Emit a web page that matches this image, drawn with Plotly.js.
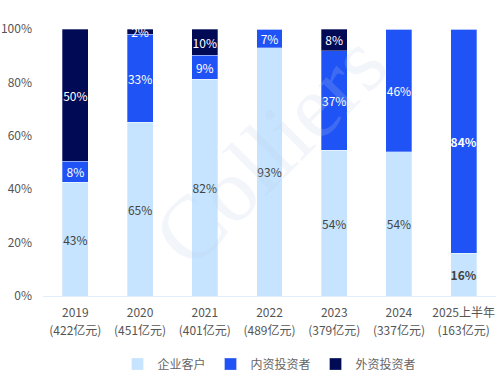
<!DOCTYPE html>
<html>
<head>
<meta charset="utf-8">
<script src="https://cdn.plot.ly/plotly-3.0.1.min.js"></script>
<style>html,body{margin:0;padding:0;background:#fff;}#chart{width:500px;height:382px;}</style>
</head>
<body>
<div id="chart"></div>
<script>
const years = ["2019", "2020", "2021", "2022", "2023", "2024", "2025上半年"];
const amounts = ["(422亿元)", "(451亿元)", "(401亿元)", "(489亿元)", "(379亿元)", "(337亿元)", "(163亿元)"];
const seriesNames = ["企业客户", "内资投资者", "外资投资者"];
const corporate = [43, 65, 82, 93, 54, 54, 16];
const domestic = [8, 33, 9, 7, 37, 46, 84];
const foreign = [50, 2, 10, 0, 8, 0, 0];
const yTicks = [0, 20, 40, 60, 80, 100];
const colors = ["#c6e4ff", "#1f53f5", "#000a55"];
const textColors = ["#444444", "#ffffff", "#ffffff"];
const FONT = "Noto Sans CJK SC, Noto Sans, sans-serif";

function labels(vals) {
  return vals.map((v, i) => {
    if (!v) return "";
    return i === vals.length - 1 ? "<b>" + v + "%</b>" : v + "%";
  });
}

const all = [corporate, domestic, foreign];
const traces = all.map((vals, k) => ({
  type: "bar",
  name: seriesNames[k],
  x: years,
  y: vals,
  text: labels(vals),
  texttemplate: "%{text}",
  textposition: "inside",
  insidetextanchor: "middle",
  textangle: 0,
  textfont: {color: textColors[k], size: 12, family: FONT},
  marker: {color: colors[k], line: {color: "rgba(255,255,255,0.6)", width: 0.5}},
  hoverinfo: "skip"
}));
// carrier for the second line of category labels (amounts)
traces.push({
  type: "scatter", mode: "markers", x: years.map((_, i) => i), y: years.map(() => null),
  xaxis: "x2", yaxis: "y", showlegend: false, hoverinfo: "skip", marker: {opacity: 0}
});

const layout = {
  width: 500, height: 382,
  margin: {l: 43, r: 4, t: 29, b: 86, autoexpand: false},
  barmode: "stack",
  barnorm: "percent",
  bargap: 0.6,
  showlegend: true,
  uniformtext: {mode: "show", minsize: 12},
  font: {family: FONT, color: "#555", size: 12},
  paper_bgcolor: "#fff",
  plot_bgcolor: "#fff",
  xaxis: {
    type: "category", categoryarray: years, range: [-0.5, 6.5],
    showline: true, linecolor: "#e3ecfb", linewidth: 1,
    ticks: "", tickfont: {size: 12, color: "#555"}, ticklabelstandoff: 6,
    automargin: false, fixedrange: true
  },
  xaxis2: {
    type: "linear", overlaying: "x", anchor: "y", side: "bottom", range: [-0.5, 6.5],
    tickmode: "array", tickvals: years.map((_, i) => i), ticktext: amounts,
    showline: false, showgrid: false, zeroline: false, ticks: "",
    tickfont: {size: 12, color: "#555"}, ticklabelstandoff: 26, automargin: false
  },
  yaxis: {
    range: [0, 100], tickmode: "array", tickvals: yTicks, ticktext: yTicks.map(v => v + "%"),
    showgrid: false, zeroline: false, showline: false, ticks: "",
    tickfont: {size: 12, color: "#555"}, ticklabelstandoff: 10, automargin: false
  },
  legend: {
    orientation: "h", x: 0.5, xanchor: "center", y: -0.255, yanchor: "middle",
    font: {size: 12, color: "#666"}, itemwidth: 30, traceorder: "normal"
  },
  annotations: [{
    text: "Colliers", xref: "paper", yref: "paper", x: 0.5, y: 0.55,
    showarrow: false, textangle: -45,
    font: {family: "Liberation Serif, serif", size: 90, color: "rgba(190,205,230,0.2)"}
  }]
};

Plotly.newPlot("chart", traces, layout, {displayModeBar: false, staticPlot: true});
</script>
</body>
</html>
